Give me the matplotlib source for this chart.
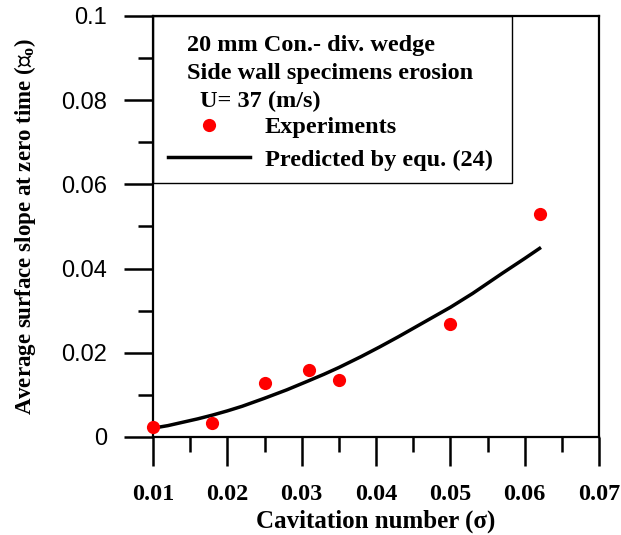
import matplotlib
matplotlib.use('Agg')
import matplotlib.pyplot as plt
from matplotlib.patches import Rectangle
from matplotlib.ticker import MultipleLocator

# Experimental points
sigma_exp = [0.010, 0.018, 0.025, 0.031, 0.035, 0.050, 0.062]
slope_exp = [0.0024, 0.0034, 0.0129, 0.0159, 0.0135, 0.0268, 0.0529]

# Predicted curve
sigma_pred = [0.010, 0.012, 0.014, 0.016, 0.018, 0.020, 0.022, 0.025, 0.028, 0.031,
              0.033, 0.035, 0.038, 0.0405, 0.043, 0.045, 0.048, 0.050, 0.053, 0.057,
              0.060, 0.062]
slope_pred = [0.0021, 0.0027, 0.0035, 0.0043, 0.0052, 0.0062, 0.0073, 0.0092, 0.0112,
              0.0134, 0.0149, 0.0165, 0.0191, 0.0214, 0.0238, 0.0258, 0.0288, 0.0308,
              0.0341, 0.0389, 0.0424, 0.0448]

header_lines = ['20 mm Con.- div. wedge', 'Side wall specimens erosion']
velocity_label = 'U= 37 (m/s)'

serif = 'Liberation Serif'
sans = 'Liberation Sans'
fs = 17.5

fig = plt.figure(figsize=(6.21, 5.35), dpi=100)
ax = fig.add_axes([0.2464, 0.1832, 0.7182, 0.7869])

ax.plot(sigma_pred, slope_pred, color='black', lw=2.5, label='Predicted by equ. (24)', zorder=2)
ax.plot(sigma_exp, slope_exp, 'o', color='red', ms=9.5, mec='none', label='Experiments',
        clip_on=False, zorder=3)

ax.set_xlim(0.01, 0.07)
ax.set_ylim(0, 0.1)
ax.xaxis.set_minor_locator(MultipleLocator(0.005))
ax.yaxis.set_minor_locator(MultipleLocator(0.01))
ax.set_yticks([0, 0.02, 0.04, 0.06, 0.08, 0.1])
ax.set_yticklabels(['0', '0.02', '0.04', '0.06', '0.08', '0.1'], fontfamily=sans, fontsize=17)
ax.set_xticks([0.01, 0.02, 0.03, 0.04, 0.05, 0.06, 0.07])
ax.set_xticklabels(['0.01', '0.02', '0.03', '0.04', '0.05', '0.06', '0.07'],
                   fontfamily=serif, fontweight='bold', fontsize=17.5)

ax.tick_params(which='major', direction='out', length=21, width=1.8)
ax.tick_params(which='minor', direction='out', length=11, width=1.8)
ax.tick_params(axis='y', which='major', pad=12)
ax.tick_params(axis='x', which='major', pad=13)
for s in ax.spines.values():
    s.set_linewidth(1.6)

ax.set_xlabel('Cavitation number (\u03c3)', fontfamily=serif, fontweight='bold',
              fontsize=18, labelpad=3)
ax.set_ylabel('Average surface slope at zero time (\u25a5$_\\mathregular{o}$)',
              fontfamily=[serif, 'DejaVu Sans'], fontweight='bold', fontsize=16.5, labelpad=17)

# legend box with header text
ax.add_patch(Rectangle((0, 0.603), 0.805, 0.397, transform=ax.transAxes, fill=False,
                       edgecolor='black', lw=1.0, zorder=4, clip_on=False))
ax.text(0.076, 0.929, header_lines[0], transform=ax.transAxes, fontfamily=serif,
        fontweight='bold', fontsize=fs, va='center', ha='left')
ax.text(0.076, 0.864, header_lines[1], transform=ax.transAxes, fontfamily=serif,
        fontweight='bold', fontsize=fs, va='center', ha='left')
ax.text(0.105, 0.797, velocity_label, transform=ax.transAxes, fontfamily=serif,
        fontweight='bold', fontsize=fs, va='center', ha='left')

handles, labels = ax.get_legend_handles_labels()
leg = ax.legend(handles[::-1], labels[::-1], loc='upper left', bbox_to_anchor=(0.0, 0.797),
                frameon=False, handlelength=3.4, handletextpad=0.6, labelspacing=0.45,
                borderaxespad=0.2, prop={'family': serif, 'weight': 'bold', 'size': fs})

fig.savefig('out.png', dpi=100)
